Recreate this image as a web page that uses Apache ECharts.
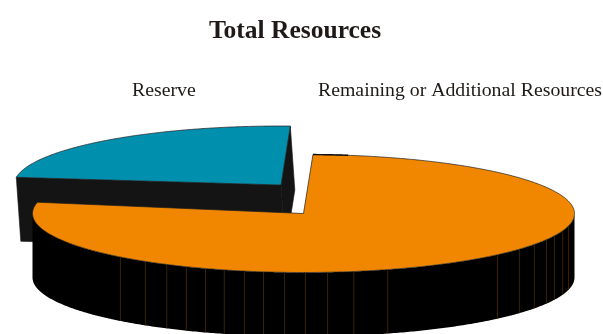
<!DOCTYPE html>
<html>
<head>
<meta charset="utf-8">
<style>html,body{margin:0;padding:0;background:#fff}#chart{width:603px;height:334px}</style>
<script src="https://cdn.jsdelivr.net/npm/echarts@6/dist/echarts.min.js"></script>
</head>
<body>
<div id="chart"></div>
<script>
// Slices in draw order: the pulled-out slice sits behind the main one.
const categories = ['Reserve', 'Remaining or Additional Resources'];
const shares = [22.5, 77.5];
const sliceColors = ['#0090ae', '#f18700'];
// Angles (degrees, clockwise from 3 o'clock) of the faint seams on the rim.
const seamAngles = [132.5, 125.7, 120.3, 115.6, 111.2, 107, 102.6, 98.5, 94, 89.6, 84.9, 79.3, 71.9, 44.3, 37.2, 31.6, 26.3, 22.2, 17, 12];

const FONT = '"Liberation Serif", serif';
const CX = 303.5, CY = 213.5, RX = 271, RY = 59, DEPTH = 64;
const START_DEG = 2;            // clockwise from 12 o'clock, where the main slice begins
// spreadDeg widens the pulled-out slice a little on its leading edge.
const EXPLODE = [
  {x: -22.5, y: -28.5, rx: 267, dropX: 4.5, spreadDeg: 3.5},
  {x: 0, y: 0, rx: RX, dropX: 0, spreadDeg: 0}
];
const LABEL_POS = [[132, 91], [318, 91]];

const total = shares.reduce((a, b) => a + b, 0);
const rad = d => d * Math.PI / 180;

function ellipsePt(cx, cy, rx, clockDeg) {
  const a = rad(clockDeg);
  return [cx + rx * Math.sin(a), cy - RY * Math.cos(a)];
}
function arcPts(cx, cy, rx, from, to) {
  const pts = [];
  const n = Math.max(2, Math.ceil(Math.abs(to - from) * 2));
  for (let i = 0; i <= n; i++) pts.push(ellipsePt(cx, cy, rx, from + (to - from) * i / n));
  return pts;
}
const poly = (points, fill, stroke, lineWidth) => ({
  type: 'polygon', shape: {points},
  style: {fill, stroke: stroke || null, lineWidth: lineWidth || 0}
});

function renderSlice(params, api) {
  const idx = params.dataIndex;
  const value = api.value(0);
  // The main slice opens at START_DEG; the other one fills the rest of the turn.
  const sweep = value / total * 360;
  const e = EXPLODE[idx];
  const base = idx === 1 ? START_DEG : START_DEG + shares[1] / total * 360;
  const from = base - e.spreadDeg;
  const to = base + sweep;
  const cx = CX + e.x, cy = CY + e.y;
  const top = arcPts(cx, cy, e.rx, from, to);
  const apex = [cx, cy];
  const drop = p => [p[0] + e.dropX, p[1] + DEPTH];
  const children = [];

  if (idx === 0) {
    // Cut faces of the pulled-out slice, stroked so they close up without a seam.
    const a = top[0], b = top[top.length - 1];
    children.push(poly([b, apex, drop(apex), drop(b)], '#141414', '#141414', 0.6));
    children.push(poly([a, apex, drop(apex), drop(a)], '#141414', '#141414', 0.6));
  } else {
    // Outer wall along the near half, with its seams.
    const rim = arcPts(cx, cy, e.rx, 90, 270);
    const wallBase = rim.map(drop).reverse();
    children.push(poly(rim.concat(wallBase), '#000'));
    seamAngles.forEach(m => {
      const p = ellipsePt(cx, cy, e.rx, 90 + m);
      children.push({
        type: 'line',
        shape: {x1: p[0], y1: p[1], x2: p[0], y2: p[1] + DEPTH},
        style: {stroke: '#3c2200', lineWidth: 1}
      });
    });
  }

  children.push(poly(top.concat([apex]), api.visual('color'), '#1c1c1c', 0.7));

  if (idx === 1) {
    // Short heavier stretch of the back edge just past the slice's opening.
    const back = arcPts(cx, cy, e.rx, START_DEG, START_DEG + 7.5);
    children.push({type: 'polyline', shape: {points: back}, style: {fill: null, stroke: '#111', lineWidth: 1.4}});
  }

  children.push({
    type: 'text',
    style: {
      x: LABEL_POS[idx][0], y: LABEL_POS[idx][1],
      text: categories[idx],
      font: '19.8px ' + FONT, fill: '#1f1a17',
      align: 'left', verticalAlign: 'middle'
    }
  });
  return {type: 'group', children};
}

const chart = echarts.init(document.getElementById('chart'), null, {renderer: 'canvas'});
chart.setOption({
  animation: false,
  backgroundColor: '#fff',
  title: {
    text: 'Total Resources',
    left: 290, top: 13, textAlign: 'center',
    textStyle: {fontFamily: FONT, fontWeight: 'bold', fontSize: 25.5, color: '#1f1a17'}
  },
  series: [{
    type: 'custom',
    coordinateSystem: 'none',
    renderItem: renderSlice,
    encode: {value: 0},
    data: categories.map((c, i) => ({
      name: c,
      value: [shares[i], i],
      itemStyle: {color: sliceColors[i]}
    }))
  }]
});
</script>
</body>
</html>
